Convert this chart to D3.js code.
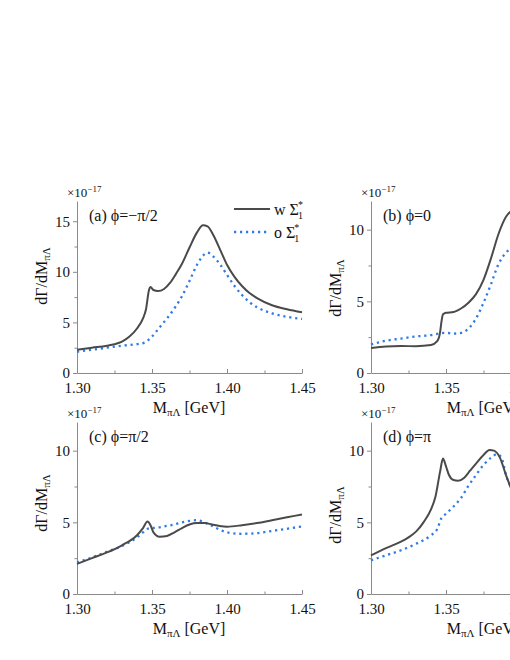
<!DOCTYPE html>
<html>
<head>
<meta charset="utf-8">
<script src="https://cdn.jsdelivr.net/npm/d3@7"></script>
<style>
  body { margin: 0; background: #fff; }
  svg text { font-family: "Liberation Serif", "Times New Roman", "DejaVu Serif", serif !important; fill: #111; }
  .axis path, .axis line { stroke: #8a8a8a; stroke-width: 1; }
  .axis text { font-size: 15px; }
</style>
</head>
<body>
<svg width="510" height="660"></svg>
<script>

// values in units of 1e-17, mass in GeV, [M, dGamma/dM]
var aWith = [[1.300,2.3],[1.310,2.5],[1.320,2.7],[1.325,2.85],[1.330,3.1],[1.335,3.6],[1.340,4.4],[1.344,5.4],
  [1.346,6.3],[1.348,8.2],[1.349,8.5],[1.351,8.2],[1.354,8.1],[1.358,8.3],[1.362,8.9],[1.366,9.8],[1.370,10.8],
  [1.375,12.4],[1.380,13.9],[1.384,14.6],[1.387,14.5],[1.391,13.6],[1.396,12.0],[1.400,10.7],[1.405,9.5],
  [1.410,8.6],[1.415,7.9],[1.420,7.4],[1.430,6.7],[1.440,6.3],[1.450,6.0]];
var aWithout = [[1.300,2.1],[1.310,2.3],[1.320,2.5],[1.330,2.7],[1.340,2.85],[1.345,3.0],[1.350,3.6],[1.355,4.5],
  [1.360,5.4],[1.365,6.4],[1.370,7.6],[1.375,9.1],[1.380,10.7],[1.384,11.6],[1.387,11.9],[1.391,11.5],[1.396,10.6],
  [1.400,9.7],[1.405,8.6],[1.410,7.7],[1.415,7.0],[1.420,6.5],[1.430,5.9],[1.440,5.55],[1.450,5.35]];

var bWith = [[1.300,1.75],[1.310,1.85],[1.320,1.88],[1.330,1.87],[1.340,1.95],[1.344,2.2],[1.346,2.8],[1.347,3.6],
  [1.348,4.1],[1.350,4.2],[1.355,4.25],[1.360,4.5],[1.365,4.9],[1.370,5.5],[1.375,6.5],[1.380,8.0],[1.385,9.7],
  [1.390,10.9],[1.395,11.4],[1.400,11.6]];
var bWithout = [[1.300,2.0],[1.310,2.25],[1.320,2.4],[1.330,2.55],[1.340,2.65],[1.345,2.75],[1.350,2.8],[1.355,2.75],
  [1.360,2.8],[1.365,3.1],[1.370,3.8],[1.375,4.9],[1.380,6.2],[1.385,7.6],[1.390,8.4],[1.395,8.8],[1.400,9.0]];

var cWith = [[1.300,2.1],[1.310,2.5],[1.320,2.9],[1.330,3.4],[1.340,4.1],[1.344,4.6],[1.347,5.05],[1.349,4.8],
  [1.351,4.3],[1.355,4.0],[1.360,4.05],[1.365,4.3],[1.370,4.6],[1.375,4.85],[1.380,4.95],[1.385,4.95],[1.390,4.85],
  [1.395,4.75],[1.400,4.7],[1.410,4.8],[1.420,4.95],[1.430,5.15],[1.440,5.35],[1.450,5.55]];
var cWithout = [[1.300,2.2],[1.310,2.55],[1.320,2.95],[1.330,3.35],[1.340,3.95],[1.344,4.3],[1.347,4.55],[1.350,4.6],
  [1.355,4.65],[1.360,4.75],[1.365,4.85],[1.370,5.0],[1.375,5.1],[1.380,5.15],[1.385,5.0],[1.390,4.75],[1.395,4.5],
  [1.400,4.3],[1.410,4.2],[1.420,4.25],[1.430,4.4],[1.440,4.55],[1.450,4.72]];

var dWith = [[1.300,2.7],[1.310,3.2],[1.320,3.65],[1.325,3.95],[1.330,4.35],[1.335,5.0],[1.340,5.9],[1.343,6.8],
  [1.346,8.5],[1.348,9.45],[1.350,8.9],[1.352,8.3],[1.355,7.95],[1.358,7.9],[1.362,8.1],[1.366,8.6],[1.370,9.1],
  [1.375,9.7],[1.379,10.05],[1.382,10.0],[1.386,9.5],[1.390,8.3],[1.394,7.2]];
var dWithout = [[1.300,2.35],[1.310,2.7],[1.320,3.05],[1.330,3.5],[1.340,4.1],[1.344,4.5],[1.347,5.3],[1.350,5.6],
  [1.355,6.1],[1.360,6.7],[1.365,7.55],[1.370,8.3],[1.375,9.0],[1.380,9.5],[1.384,9.75],[1.387,9.5],[1.390,8.3],[1.394,7.3]];

var xTicks = [1.30, 1.35, 1.40, 1.45];
var panelLabels = ["(a) \u03D5=\u2212\u03C0/2", "(b) \u03D5=0", "(c) \u03D5=\u03C0/2", "(d) \u03D5=\u03C0"];
var yMaxes = [17, 12, 12, 12];

var panels = [
  { left: 77,  top: 201, bottom: 373, w: aWith, o: aWithout, label: panelLabels[0], ymax: yMaxes[0], yTicks: [0,5,10,15], labY: 276 },
  { left: 371, top: 201, bottom: 373, w: bWith, o: bWithout, label: panelLabels[1], ymax: yMaxes[1], yTicks: [0,5,10], labY: 288 },
  { left: 77,  top: 422, bottom: 594, w: cWith, o: cWithout, label: panelLabels[2], ymax: yMaxes[2], yTicks: [0,5,10], labY: 503 },
  { left: 371, top: 422, bottom: 594, w: dWith, o: dWithout, label: panelLabels[3], ymax: yMaxes[3], yTicks: [0,5,10], labY: 515 }
];

var serif = "'Liberation Serif', 'Times New Roman', 'DejaVu Serif', serif";
var svg = d3.select("svg");
var solidColor = "#4a4a4a", dotColor = "#2f7be6";

panels.forEach(function(p) {
  var x = d3.scaleLinear().domain([1.30, 1.45]).range([p.left, p.left + 225]);
  var y = d3.scaleLinear().domain([0, p.ymax]).range([p.bottom, p.top]);

  // minor ticks
  var xMinor = d3.range(1.325, 1.45, 0.05);
  var yMinor = d3.range(2.5, p.ymax, 5);

  var gx = svg.append("g").attr("class", "axis")
      .attr("transform", "translate(0," + p.bottom + ")")
      .call(d3.axisBottom(x).tickValues(xTicks).tickFormat(d3.format(".2f")).tickSizeInner(-4).tickSizeOuter(0).tickPadding(7));
  gx.attr("font-family", serif).attr("font-size", 15);
  gx.selectAll("text").attr("dy", "0.85em");
  svg.append("g").attr("class", "axis")
      .attr("transform", "translate(0," + p.bottom + ")")
      .call(d3.axisBottom(x).tickValues(xMinor).tickFormat("").tickSizeInner(-2.5).tickSizeOuter(0))
      .select(".domain").remove();

  var gy = svg.append("g").attr("class", "axis")
      .attr("transform", "translate(" + p.left + ",0)")
      .call(d3.axisLeft(y).tickValues(p.yTicks).tickSizeInner(4).tickSizeOuter(0).tickPadding(3));
  gy.attr("font-family", serif).attr("font-size", 15);
  svg.append("g").attr("class", "axis")
      .attr("transform", "translate(" + p.left + ",0)")
      .call(d3.axisLeft(y).tickValues(yMinor).tickFormat("").tickSizeInner(2.5).tickSizeOuter(0))
      .select(".domain").remove();

  var line = d3.line()
      .x(function(d) { return x(d[0]); })
      .y(function(d) { return y(d[1]); })
      .curve(d3.curveMonotoneX);

  svg.append("path").datum(p.o)
      .attr("d", line).attr("fill", "none")
      .attr("stroke", dotColor).attr("stroke-width", 2.3)
      .attr("stroke-dasharray", "2.2,3.8");
  svg.append("path").datum(p.w)
      .attr("d", line).attr("fill", "none")
      .attr("stroke", solidColor).attr("stroke-width", 2);

  // scale factor
  var sf = svg.append("text").attr("x", p.left - 10).attr("y", p.top - 4)
      .style("font-family", serif).style("font-size", "13px");
  sf.append("tspan").text("\u00D710");
  sf.append("tspan").attr("dy", -5).style("font-size", "9px").text("\u221217");

  svg.append("text").attr("x", p.left + 12).attr("y", p.top + 20)
      .style("font-family", serif).style("font-size", "16px").text(p.label);

  // axis titles
  var xt = svg.append("text").attr("x", p.left + 112).attr("y", p.bottom + 40)
      .attr("text-anchor", "middle").style("font-family", serif).style("font-size", "16px");
  xt.append("tspan").text("M");
  xt.append("tspan").attr("dy", 3).style("font-size", "11px").text("\u03C0\u039B");
  xt.append("tspan").attr("dy", -3).text(" [GeV]");

  var yt = svg.append("text")
      .attr("transform", "translate(" + (p.left - 30) + "," + p.labY + ") rotate(-90)")
      .attr("text-anchor", "middle").style("font-family", serif).style("font-size", "16px");
  yt.append("tspan").text("d\u0393/dM");
  yt.append("tspan").attr("dy", 3).style("font-size", "11px").text("\u03C0\u039B");
});

// legend
var leg = svg.append("g");
leg.append("line").attr("x1", 234).attr("x2", 270).attr("y1", 209).attr("y2", 209)
    .attr("stroke", solidColor).attr("stroke-width", 2);
leg.append("line").attr("x1", 234).attr("x2", 270).attr("y1", 232).attr("y2", 232)
    .attr("stroke", dotColor).attr("stroke-width", 2.3).attr("stroke-dasharray", "2.2,3.8");
[["w", 215], ["o", 238]].forEach(function(e) {
  var t = leg.append("text").attr("x", 274).attr("y", e[1])
      .style("font-family", serif).style("font-size", "16px");
  t.append("tspan").text(e[0] + " \u03A3");
  t.append("tspan").attr("dy", -7).attr("dx", -1).style("font-size", "10px").text("*");
  t.append("tspan").attr("dy", 11).attr("dx", -5).style("font-size", "10px").text("1");
});

</script>
</body>
</html>
